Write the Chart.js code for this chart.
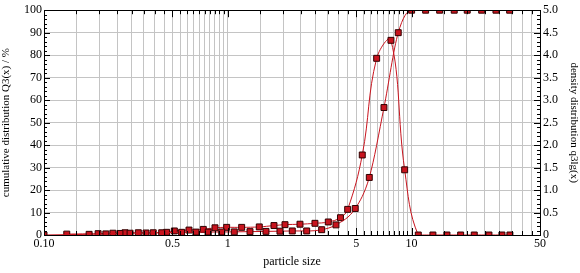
<!DOCTYPE html>
<html>
<head>
<meta charset="utf-8">
<script src="https://cdn.jsdelivr.net/npm/chart.js@4.4.1/dist/chart.umd.min.js"></script>
<style>
  html, body { margin: 0; padding: 0; background: #fff; }
  canvas { display: block; }
</style>
</head>
<body>
<canvas id="psd" width="580" height="273"></canvas>
<script>
// cumulative distribution Q3(x) / %
const cumX = [0.1, 0.176, 0.217, 0.259, 0.294, 0.359, 0.437, 0.561, 0.671, 0.783, 0.927, 1.085, 1.321, 1.614, 1.923, 2.244, 2.688, 3.243, 3.879, 4.94, 5.889, 7.078, 8.464, 10.01, 11.93, 14.22, 17.07, 20.09, 24.07, 28.79, 34.18];
const cumY = [0, 0.3, 0.5, 0.7, 0.8, 0.9, 1.0, 1.2, 1.3, 1.3, 1.35, 1.4, 1.5, 1.6, 1.7, 1.8, 1.8, 2.35, 4.5, 11.8, 25.6, 56.7, 90, 100, 100, 100, 100, 100, 100, 100, 100];

// density distribution q3lg(x)
const denX = [0.133, 0.197, 0.237, 0.276, 0.326, 0.393, 0.465, 0.512, 0.615, 0.736, 0.852, 0.986, 1.19, 1.484, 1.784, 2.048, 2.471, 2.981, 3.523, 4.104, 4.491, 5.393, 6.458, 7.725, 9.173, 10.88, 13.07, 15.58, 18.5, 21.94, 26.37, 31.03, 34.3];
const denY = [0.02, 0.03, 0.04, 0.05, 0.05, 0.05, 0.06, 0.09, 0.11, 0.125, 0.16, 0.17, 0.17, 0.18, 0.21, 0.23, 0.24, 0.26, 0.29, 0.385, 0.57, 1.78, 3.93, 4.33, 1.45, 0, 0, 0, 0, 0, 0, 0, 0];

const xLabels = { 0.1: '0.10', 0.5: '0.5', 1: '1', 5: '5', 10: '10', 50: '50' };

// vertical grid positions: 0.05 steps below 1, 0.5 steps to 10, 5 steps to 50
const xGrid = [];
for (let i = 2; i <= 20; i++) xGrid.push(+(i * 0.05).toFixed(2));
for (let i = 3; i <= 20; i++) xGrid.push(+(i * 0.5).toFixed(1));
for (let i = 3; i <= 10; i++) xGrid.push(i * 5);

const FONT = 'Liberation Serif';
const RED = '#c8141e';

// frame and inward tick marks
const frameTicks = {
  id: 'frameTicks',
  afterDraw(chart) {
    const { ctx, chartArea: a, scales } = chart;
    ctx.save();
    ctx.strokeStyle = '#000';
    ctx.lineWidth = 1;
    ctx.beginPath();
    xGrid.forEach(v => {
      const px = Math.round(scales.x.getPixelForValue(v)) + 0.5;
      const len = xLabels[v] ? 7 : 4;
      ctx.moveTo(px, a.bottom); ctx.lineTo(px, a.bottom - len);
      ctx.moveTo(px, a.top); ctx.lineTo(px, a.top + len);
    });
    for (let v = 0; v <= 100; v += 2) {
      const py = Math.round(scales.y.getPixelForValue(v)) + 0.5;
      const len = v % 10 === 0 ? 6 : 3;
      ctx.moveTo(a.left, py); ctx.lineTo(a.left + len, py);
    }
    for (let i = 0; i <= 50; i++) {
      const py = Math.round(scales.y1.getPixelForValue(i / 10)) + 0.5;
      const len = i % 5 === 0 ? 6 : 3;
      ctx.moveTo(a.right, py); ctx.lineTo(a.right - len, py);
    }
    ctx.stroke();
    ctx.strokeRect(Math.round(a.left) + 0.5, Math.round(a.top) + 0.5,
      Math.round(a.right - a.left), Math.round(a.bottom - a.top));
    ctx.restore();
  }
};

new Chart(document.getElementById('psd'), {
  type: 'line',
  data: {
    datasets: [{
      label: 'Q3(x)',
      data: cumX.map((x, i) => ({ x, y: cumY[i] })),
      yAxisID: 'y',
      borderColor: RED,
      borderWidth: 1,
      backgroundColor: RED,
      pointBackgroundColor: RED,
      pointBorderColor: '#300000',
      pointBorderWidth: 1,
      pointStyle: 'rect',
      pointRadius: 4.2,
      cubicInterpolationMode: 'monotone'
    }, {
      label: 'q3lg(x)',
      data: denX.map((x, i) => ({ x, y: denY[i] })),
      yAxisID: 'y1',
      borderColor: RED,
      borderWidth: 1,
      backgroundColor: RED,
      pointBackgroundColor: RED,
      pointBorderColor: '#300000',
      pointBorderWidth: 1,
      pointStyle: 'rect',
      pointRadius: 4.2,
      tension: 0.4
    }]
  },
  options: {
    responsive: false,
    animation: false,
    layout: { padding: { top: 8, left: 0, right: 0, bottom: 0 } },
    plugins: { legend: { display: false }, tooltip: { enabled: false } },
    scales: {
      x: {
        type: 'logarithmic',
        min: 0.1,
        max: 50,
        afterBuildTicks: s => { s.ticks = xGrid.map(v => ({ value: v })); },
        afterFit: s => { s.height = 38; },
        ticks: {
          autoSkip: false,
          maxRotation: 0,
          padding: 2,
          color: '#000',
          font: { family: FONT, size: 12 },
          callback: v => xLabels[v] || ''
        },
        grid: { color: '#c4c4c4', tickLength: 0 },
        border: { display: false },
        title: {
          display: true,
          text: 'particle size',
          color: '#000',
          font: { family: FONT, size: 12 },
          padding: { top: 2, bottom: 4 }
        }
      },
      y: {
        position: 'left',
        min: 0,
        max: 100,
        afterFit: s => { s.width = 44; },
        ticks: {
          stepSize: 10,
          padding: 2,
          color: '#000',
          font: { family: FONT, size: 12 }
        },
        grid: { color: '#c4c4c4', tickLength: 0 },
        border: { display: false },
        title: {
          display: true,
          text: 'cumulative distribution Q3(x) / %',
          color: '#000',
          font: { family: FONT, size: 11 },
          padding: { top: 0, bottom: 0 }
        }
      },
      y1: {
        position: 'right',
        min: 0,
        max: 5,
        afterFit: s => { s.width = 40; },
        ticks: {
          stepSize: 0.5,
          padding: 3,
          color: '#000',
          font: { family: FONT, size: 12 },
          callback: v => v === 0 ? '0' : v.toFixed(1)
        },
        grid: { drawOnChartArea: false, tickLength: 0 },
        border: { display: false },
        title: {
          display: true,
          text: 'density distribution q3lg(x)',
          color: '#000',
          font: { family: FONT, size: 11 },
          padding: { top: 0, bottom: 3 }
        }
      }
    }
  },
  plugins: [frameTicks]
});
</script>
</body>
</html>
